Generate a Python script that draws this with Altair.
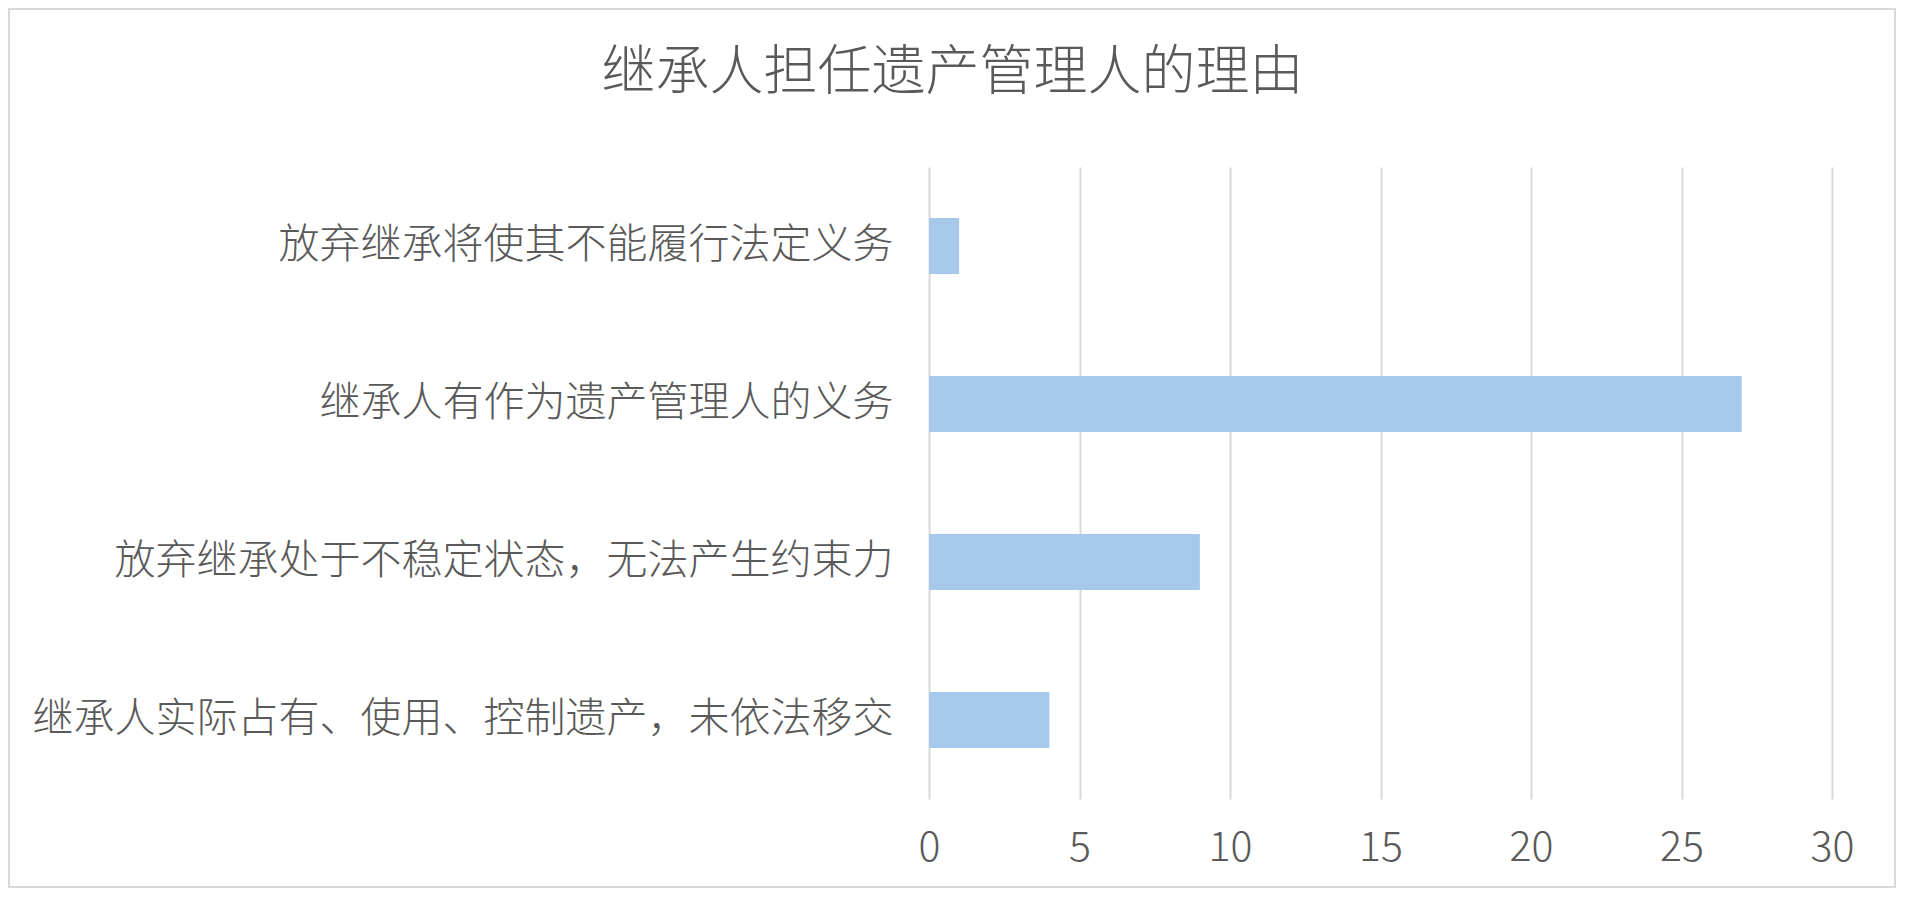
import altair as alt
import pandas as pd

categories = [
    "放弃继承将使其不能履行法定义务",
    "继承人有作为遗产管理人的义务",
    "放弃继承处于不稳定状态，无法产生约束力",
    "继承人实际占有、使用、控制遗产，未依法移交",
]
values = [1, 27, 9, 4]
x_ticks = [0, 5, 10, 15, 20, 25, 30]

df = pd.DataFrame({"reason": categories, "count": values})

FONT = "Noto Sans CJK SC"
TEXT = "#595959"
GRID = "#D9D9D9"
BAR = "#A6C8EA"

W, H = 903, 632
PL, PT = 921, 159
TOTAL_W, TOTAL_H = 1888, 880

bars = alt.Chart(df).mark_bar(color=BAR).encode(
    y=alt.Y(
        "reason:N",
        sort=categories,
        title=None,
        scale=alt.Scale(paddingInner=0.645, paddingOuter=0.3225),
        axis=alt.Axis(
            domain=False,
            ticks=False,
            labelFont=FONT,
            labelFontSize=41,
            labelFontWeight=300,
            labelColor=TEXT,
            labelPadding=36,
            labelLimit=900,
            grid=False,
        ),
    ),
    x=alt.X(
        "count:Q",
        title=None,
        scale=alt.Scale(domain=[0, 30], nice=False),
        axis=alt.Axis(
            values=x_ticks,
            domain=False,
            ticks=False,
            grid=True,
            gridColor=GRID,
            gridWidth=2,
            labelFont=FONT,
            labelFontSize=41,
            labelFontWeight=300,
            labelColor=TEXT,
            labelPadding=29,
            labelFlush=False,
        ),
    ),
)

frame = alt.Chart(pd.DataFrame({"k": [0]})).mark_rect(
    fill=None, stroke=GRID, strokeWidth=2, clip=False
).encode(
    x=alt.value(-PL + 1),
    x2=alt.value(TOTAL_W - PL - 1),
    y=alt.value(-PT + 1),
    y2=alt.value(TOTAL_H - PT - 1),
)

chart = alt.layer(bars, frame).properties(
    width=W,
    height=H,
    background="white",
    padding={"left": PL, "top": PT, "right": TOTAL_W - PL - W, "bottom": TOTAL_H - PT - H},
    autosize=alt.AutoSizeParams(type="none"),
    title=alt.TitleParams(
        text="继承人担任遗产管理人的理由",
        font=FONT,
        fontSize=54,
        fontWeight=300,
        color=TEXT,
        anchor="middle",
        frame="group",
        dx=-428,
        baseline="middle",
        offset=-120,
    ),
).configure_view(stroke="transparent", strokeWidth=0)

chart.save("out.html", embed_options={"renderer": "svg", "actions": False})
